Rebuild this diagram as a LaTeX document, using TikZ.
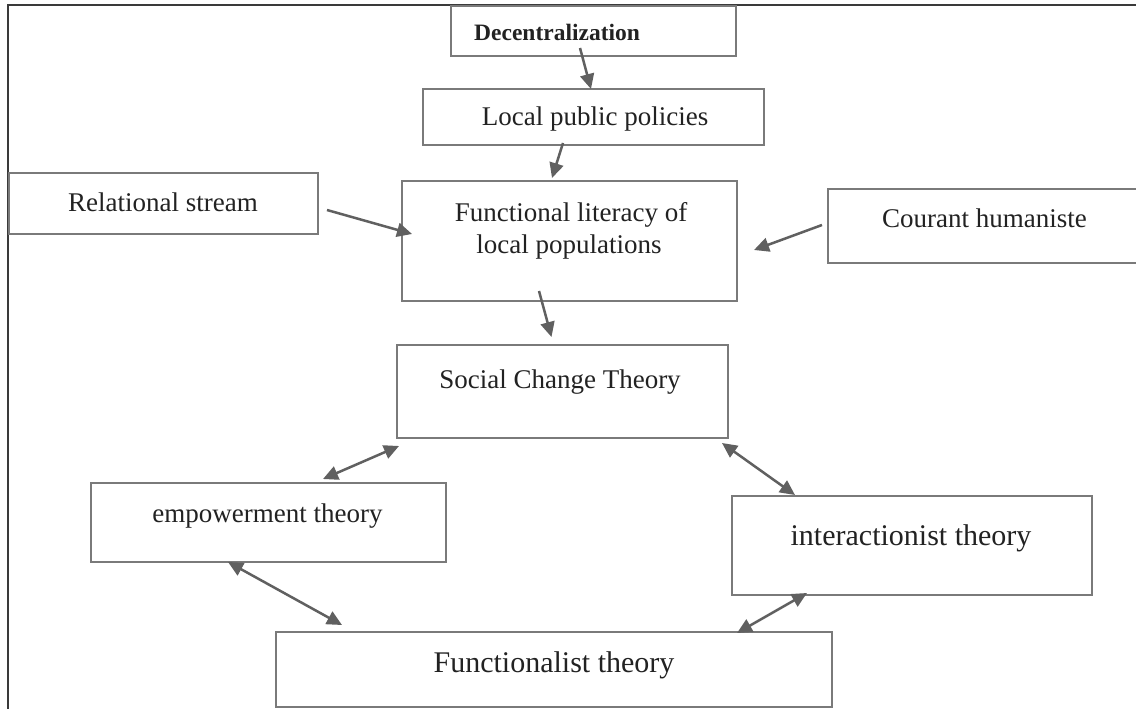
\documentclass[tikz,border=0pt]{standalone}
\usepackage{fontspec}
\setmainfont{Liberation Serif}
\usetikzlibrary{arrows.meta,calc}
\definecolor{boxgray}{HTML}{7A7A7A}
\definecolor{arrgray}{HTML}{606060}
\definecolor{txtgray}{HTML}{222222}
\definecolor{framegray}{HTML}{3A3A3A}
\tikzset{
  box/.style={draw=boxgray, line width=2pt, rectangle, inner sep=0pt, outer sep=0pt},
  lbl/.style={anchor=base, inner sep=0pt, text=txtgray, font=\fontsize{27}{32}\selectfont},
  lblbig/.style={lbl, font=\fontsize{30}{36}\selectfont},
  arr/.style={draw=arrgray, line width=2.5pt, -{Triangle[length=15pt,width=14pt]}},
  darr/.style={draw=arrgray, line width=2.5pt, {Triangle[length=15pt,width=14pt]}-{Triangle[length=15pt,width=14pt]}},
}
\begin{document}
\begin{tikzpicture}[x=1pt,y=-1pt]
\useasboundingbox (0,0) rectangle (1136,709);
\clip (0,0) rectangle (1136,709);
\fill[white] (0,0) rectangle (1136,709);
% frame
\draw[framegray, line width=2pt] (8,709) -- (8,5) -- (1140,5);
% boxes
\node[box, minimum width=285pt, minimum height=50pt] (dec) at (593.5,31) {};
\node[box, minimum width=341pt, minimum height=56pt] (loc) at (593.5,117) {};
\node[box, minimum width=309pt, minimum height=61pt] (rel) at (163.5,203.5) {};
\node[box, minimum width=335pt, minimum height=120pt] (fun) at (569.5,241) {};
\node[box, minimum width=322pt, minimum height=74pt] (cou) at (989,226) {};
\node[box, minimum width=331pt, minimum height=93pt] (soc) at (562.5,391.5) {};
\node[box, minimum width=355pt, minimum height=79pt] (emp) at (268.5,522.5) {};
\node[box, minimum width=360pt, minimum height=99pt] (int) at (912,545.5) {};
\node[box, minimum width=556pt, minimum height=75pt] (fnl) at (554,669.5) {};
% labels
\node[lbl, anchor=base west, font=\fontsize{23.5}{28}\selectfont\bfseries] (decT) at (474,41) {Decentralization};
\node[lbl] (locT) at (595,125) {Local public policies};
\node[lbl] (relT) at (163,211) {Relational stream};
\node[lbl] (funT1) at (571,221) {Functional literacy of};
\node[lbl] (funT2) at (569,253) {local populations};
\node[lbl] (couT) at (984.5,227) {Courant humaniste};
\node[lbl] (socT) at (560,388) {Social Change Theory};
\node[lbl] (empT) at (267.5,522) {empowerment theory};
\node[lblbig] (intT) at (911,545) {interactionist theory};
\node[lblbig] (fnlT) at (554,672) {Functionalist theory};
% connectors
\draw[arr] ($(dec.south)+(-13.5,-8)$) -- ($(loc.north)+(-2.5,0)$);
\draw[arr] ($(loc.south)+(-30.5,-2)$) -- ($(fun.north)+(-17.5,-3)$);
\draw[arr] ($(rel.east)+(9,6.5)$) -- ($(fun.west)+(10,-7)$);
\draw[arr] ($(cou.west)+(-6,-1)$) -- ($(fun.east)+(17,9)$);
\draw[arr] ($(fun.south)+(-30.5,-10)$) -- ($(soc.north)+(-11,-8)$);
\draw[darr] ($(soc.south west)+(2,8)$) -- ($(emp.north)+(54.5,-4)$);
\draw[darr] ($(soc.south east)+(-6,5)$) -- ($(int.north west)+(63,-1)$);
\draw[darr] ($(emp.south)+(-40.5,0)$) -- ($(fnl.north west)+(66,-7)$);
\draw[darr] ($(int.south west)+(75,-2)$) -- ($(fnl.north east)+(-95,1)$);
\end{tikzpicture}
\end{document}
